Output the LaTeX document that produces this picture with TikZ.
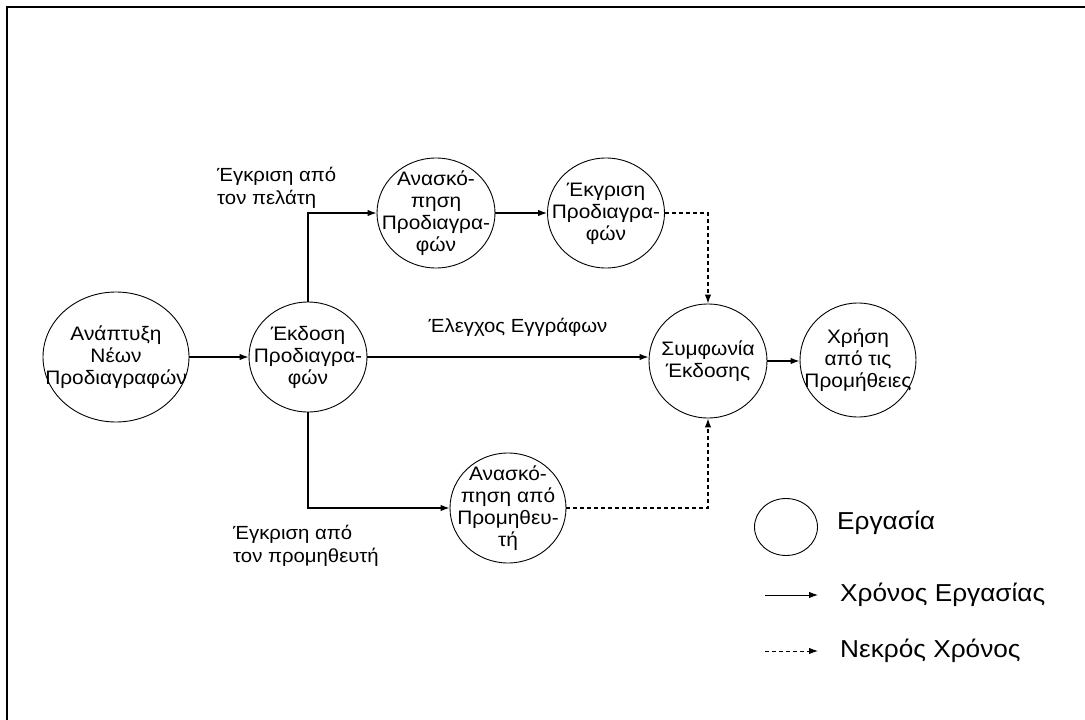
\documentclass[tikz,border=0pt]{standalone}
\usepackage{fontspec}
\setmainfont{Liberation Sans}[FakeStretch=1.07]
\usetikzlibrary{shapes.geometric,arrows.meta}

% centred multi-line text that does not enlarge the ellipse around it
\newcommand{\ctext}[1]{\makebox[0pt]{\smash{\raisebox{-6.5pt}{\begin{tabular}{@{}c@{}}#1\end{tabular}}}}}

\tikzset{
  task/.style={draw, ellipse, line width=0.9pt, inner sep=0pt,
    minimum width=118pt, minimum height=110pt,
    font=\fontsize{19.5}{22}\selectfont},
  work/.style={line width=1.2pt, -{Latex[length=9pt,width=6.5pt]}},
  slack/.style={work, dash pattern=on 4pt off 3pt},
  lbl/.style={font=\fontsize{19}{22.5}\selectfont, inner sep=0pt, align=left},
  legend/.style={font=\fontsize{24.5}{28}\selectfont, inner sep=0pt, anchor=west},
}

\begin{document}
\begin{tikzpicture}[x=1pt,y=-1pt]
\useasboundingbox (0,0) rectangle (1085,720);
% frame
\draw[line width=2.5pt] (7,725) -- (7,7) -- (1090,7);

% activities
\node[task, minimum width=146pt, minimum height=130pt] (dev) at (116,357)
  {\ctext{Ανάπτυξη\\Νέων\\Προδιαγραφών}};
\node[task] (issue) at (308,357) {\ctext{Έκδοση\\Προδιαγρα-\\φών}};
\node[task] (review) at (436,213) {\ctext{Ανασκό-\\πηση\\Προδιαγρα-\\φών}};
\node[task, minimum width=117pt] (approve) at (606,213) {\ctext{Έκγριση\\Προδιαγρα-\\φών}};
\node[task, minimum height=114pt] (agree) at (708,361) {\ctext{Συμφωνία\\Έκδοσης}};
\node[task, minimum width=116pt, minimum height=114pt] (use) at (858,360)
  {\ctext{Χρήση\\από τις\\Προμήθειες}};
\node[task, minimum width=116pt] (supp) at (508,508) {\ctext{Ανασκό-\\πηση από\\Προμηθευ-\\τή}};

% precedence links
\draw[work] (dev.east) -- (issue.west);
\draw[work] (issue.north) |- (review.west);
\draw[work] (review.east) -- (approve.west);
\draw[slack] (approve.east) -| (agree.north);
\draw[work] (issue.east) -- (issue.east -| agree.west);
\draw[work] (agree.east) -- (agree.east -| use.west);
\draw[work] (issue.south) |- (supp.west);
\draw[slack] (supp.east) -| (agree.south);

% link labels
\node[lbl, anchor=west] (lclient) at (217,188) {Έγκριση από\\τον πελάτη};
\node[lbl] (lcheck) at (518,327) {Έλεγχος Εγγράφων};
\node[lbl, anchor=west] (lsupp) at (233,546) {Έγκριση από\\τον προμηθευτή};

% key
\node[task, minimum width=63pt, minimum height=57pt] (key) at (786,527) {};
\node[legend] (keytask) at (837,523) {Εργασία};
\coordinate (w0) at (765,595);
\coordinate (w1) at (818,595);
\draw[work, line width=1pt] (w0) -- (w1);
\node[legend] (keywork) at (840,595) {Χρόνος Εργασίας};
\coordinate (s0) at (765,651);
\coordinate (s1) at (818,651);
\draw[slack, line width=1pt] (s0) -- (s1);
\node[legend] (keyslack) at (840,651) {Νεκρός Χρόνος};
\end{tikzpicture}
\end{document}
